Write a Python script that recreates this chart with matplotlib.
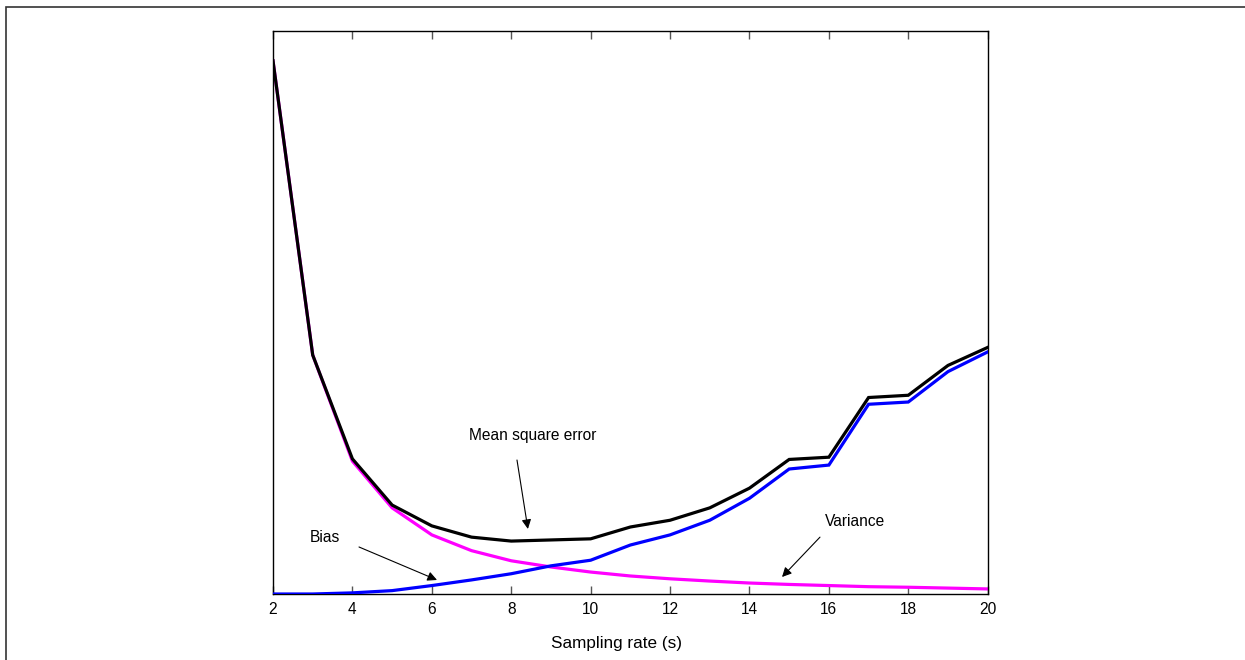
import matplotlib
matplotlib.use("Agg")
import matplotlib.pyplot as plt
from matplotlib.patches import Rectangle

plt.rcParams['font.family'] = ['Liberation Sans', 'DejaVu Sans']

# Sampling rate (s)
rate = [2, 3, 4, 5, 6, 7, 8, 9, 10, 11, 12, 13, 14, 15, 16, 17, 18, 19, 20]

# Error components (arbitrary units)
mse = [0.947, 0.4245, 0.240, 0.158, 0.121, 0.101, 0.094, 0.096, 0.098, 0.119,
       0.131, 0.153, 0.188, 0.239, 0.243, 0.349, 0.353, 0.406, 0.438]
bias = [0.0, 0.0, 0.002, 0.006, 0.015, 0.025, 0.036, 0.050, 0.060, 0.087,
        0.105, 0.131, 0.170, 0.222, 0.229, 0.337, 0.341, 0.395, 0.430]
variance = [0.947, 0.4245, 0.236, 0.153, 0.105, 0.077, 0.059, 0.048, 0.039, 0.032,
            0.027, 0.023, 0.0195, 0.017, 0.015, 0.013, 0.012, 0.0105, 0.009]

xticks = [2, 4, 6, 8, 10, 12, 14, 16, 18, 20]

FS = 11.2

fig = plt.figure(figsize=(12.45, 6.6), dpi=100)
fig.patch.set_facecolor('white')

# outer frame
fig.patches.append(Rectangle((6 / 1245, -0.05), 1.2, 1 - 7 / 660 + 0.05,
                             transform=fig.transFigure, fill=False,
                             edgecolor='#333333', linewidth=1.2))

ax = fig.add_axes([273 / 1245, 0.1, (987.7 - 273) / 1245, (594 - 31) / 660])

ax.plot(rate, variance, color='#ff00ff', lw=2.3, solid_joinstyle='miter', zorder=2)
ax.plot(rate, bias, color='#0000ff', lw=2.3, solid_joinstyle='miter', zorder=3)
ax.plot(rate, mse, color='black', lw=2.3, solid_joinstyle='miter', zorder=4)

ax.set_xlim(2, 20)
ax.set_ylim(0, 1)
ax.set_xticks(xticks)
ax.set_yticks([])
ax.tick_params(axis='x', direction='in', length=6, width=1, color='#555555',
               top=True, labelsize=FS, pad=6)
for s in ax.spines.values():
    s.set_linewidth(1.0)
    s.set_color('black')

ax.set_xlabel('Sampling rate (s)', fontsize=12.3, va='center')
ax.xaxis.set_label_coords(0.481, -0.0885)

arrow = dict(arrowstyle='-|>', mutation_scale=14, lw=0.8, color='black',
             shrinkA=0, shrinkB=0)

ax.text(8.55, 0.281, 'Mean square error', fontsize=FS, ha='center', va='center')
ax.annotate('', xy=(8.42, 0.1155), xytext=(8.145, 0.238), arrowprops=arrow)

ax.text(3.31, 0.0995, 'Bias', fontsize=FS, ha='center', va='center')
ax.annotate('', xy=(6.13, 0.0249), xytext=(4.166, 0.0835), arrowprops=arrow)

ax.text(16.66, 0.128, 'Variance', fontsize=FS, ha='center', va='center')
ax.annotate('', xy=(14.82, 0.0302), xytext=(15.776, 0.101), arrowprops=arrow)

fig.savefig('out.png', dpi=100)
